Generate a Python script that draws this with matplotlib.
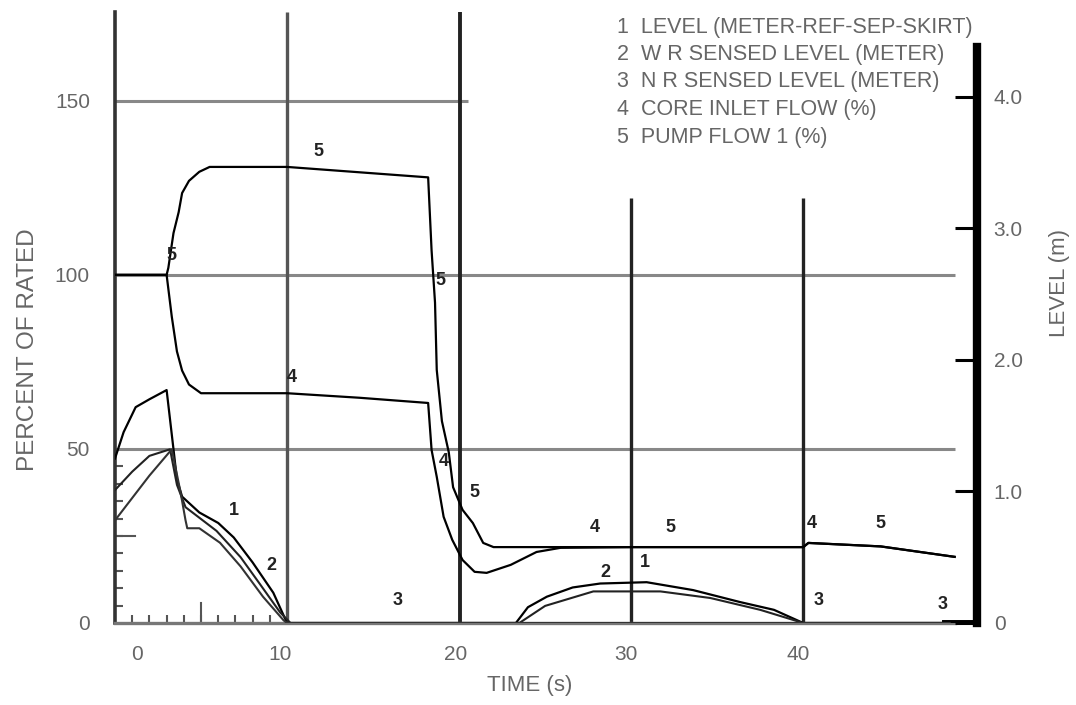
import matplotlib.pyplot as plt

plt.rcParams['font.family'] = ['Liberation Sans Narrow', 'Liberation Sans', 'DejaVu Sans']

# level curves (metres, right axis)
t_lev1 = [0, 0.5, 1.2, 2.0, 3.0, 3.4, 3.6, 3.9, 4.9, 6.0, 6.9, 8.0, 9.2, 10.0, 23.3, 24.0, 25.1, 26.6, 28.2, 30.9, 33.6, 36.3, 38.3, 40.0, 48.5]
lev1 = [1.25, 1.45, 1.64, 1.70, 1.77, 1.32, 1.09, 0.96, 0.84, 0.76, 0.65, 0.46, 0.23, 0.0, 0.0, 0.12, 0.20, 0.27, 0.30, 0.31, 0.25, 0.16, 0.10, 0.0, 0.0]
t_lev2 = [0, 1.0, 2.0, 3.2, 3.6, 4.1, 4.9, 5.9, 7.3, 8.4, 9.6, 10.2, 23.5, 25.0, 27.8, 31.7, 34.6, 37.5, 40.0, 48.5]
lev2 = [1.01, 1.15, 1.27, 1.32, 1.05, 0.88, 0.80, 0.70, 0.50, 0.30, 0.08, 0.0, 0.0, 0.13, 0.24, 0.24, 0.19, 0.10, 0.0, 0.0]
t_lev3 = [0, 1.0, 2.0, 3.3, 3.8, 4.1, 4.2, 4.9, 6.1, 7.3, 8.6, 9.8, 10.0, 48.5]
lev3 = [0.78, 0.95, 1.12, 1.32, 1.0, 0.78, 0.72, 0.72, 0.61, 0.43, 0.20, 0.02, 0.0, 0.0]

# flows (% of rated, left axis)
t_core = [0, 3.0, 3.3, 3.6, 3.9, 4.3, 5.0, 10.0, 14.2, 18.2, 18.4, 18.7, 19.1, 19.6, 20.2, 20.9, 21.6, 23.0, 24.5, 25.9, 30.0, 40.0, 40.3, 44.5, 48.8]
core = [100, 100, 88, 78, 72.5, 68.5, 66, 66, 64.7, 63.2, 49.7, 42, 30.5, 23.9, 18.1, 14.7, 14.4, 16.7, 20.4, 21.6, 21.8, 21.8, 23, 22, 19]
t_pump = [0, 3.0, 3.1, 3.4, 3.7, 3.9, 4.3, 4.9, 5.5, 10.0, 18.2, 18.4, 18.6, 18.7, 19.0, 19.4, 19.65, 20.2, 20.8, 21.4, 22.0, 40.0, 40.3, 44.5, 48.8]
pump = [100, 100, 102, 112, 118, 123.5, 127, 129.6, 131, 131, 128, 107, 92, 72.7, 58, 49, 39, 32.5, 28.7, 23, 21.8, 21.8, 23, 22, 19]

legend_lines = ['1  LEVEL (METER-REF-SEP-SKIRT)',
                '2  W R SENSED LEVEL (METER)',
                '3  N R SENSED LEVEL (METER)',
                '4  CORE INLET FLOW (%)',
                '5  PUMP FLOW 1 (%)']

# curve number tags: (text, time, percent)
tags = [('5', 11.8, 133), ('5', 18.9, 96), ('5', 20.9, 35), ('4', 10.3, 68),
        ('4', 19.1, 44), ('4', 27.9, 25), ('5', 32.3, 25), ('4', 40.5, 26),
        ('5', 44.5, 26), ('1', 6.9, 30), ('2', 9.1, 14), ('3', 16.4, 4),
        ('2', 28.5, 12), ('1', 30.8, 15), ('3', 40.9, 4), ('3', 48.1, 3),
        ('5', 3.3, 103)]

M_TO_PCT = 37.8

fig = plt.figure(figsize=(10.76, 7.05), dpi=100)
fig.set_facecolor('white')
ax = fig.add_axes([115/1076, 82/705, 862/1076, 611/705])
ax.set_xlim(0, 50.1)
ax.set_ylim(0, 175.5)
ax2 = ax.twinx()
ax2.set_ylim(0, 175.5 / M_TO_PCT)

# grid lines of the original drawing
ax.hlines([150], 0, 20.5, color='#888888', lw=2.2, zorder=1)
ax.hlines([100, 50], 0, 48.8, color='#888888', lw=2.2, zorder=1)
ax.vlines(10, 0, 175.5, color='#555555', lw=2.4, zorder=1)
ax.vlines(20.05, 0, 175.5, color='#222222', lw=2.8, zorder=1)
ax.vlines([30, 40], 0, 122, color='#222222', lw=2.4, zorder=1)
ax.axvline(5, 0, 20/611, color='#555555', lw=1.5)
ax.axhline(25, 0, 20/862, color='#555555', lw=1.5)

ax.plot(t_core, core, color='black', lw=1.6, zorder=3)
ax.plot(t_pump, pump, color='black', lw=1.6, zorder=3)
ax2.plot(t_lev1, lev1, color='black', lw=1.6, zorder=3)
ax2.plot(t_lev2, lev2, color='#222222', lw=1.5, zorder=3)
ax2.plot(t_lev3, lev3, color='#333333', lw=1.5, zorder=3)

for txt, tx, ty in tags:
    ax.text(tx, ty, txt, fontsize=13, color='#222222', ha='center', va='bottom',
            fontweight='bold', zorder=4)

# spines
for s in ['top', 'right']:
    ax.spines[s].set_visible(False)
ax.spines['left'].set_color('#333333')
ax.spines['left'].set_linewidth(2.6)
ax.spines['bottom'].set_color('#777777')
ax.spines['bottom'].set_linewidth(2.4)
ax.spines['bottom'].set_bounds(0, 48.8)
for s in ['top', 'left', 'bottom']:
    ax2.spines[s].set_visible(False)
ax2.spines['right'].set_color('black')
ax2.spines['right'].set_linewidth(6)
ax2.spines['right'].set_bounds(0, 4.38)
ax2.axhline(0, 0.963, 1, color='black', lw=5)

# ticks
ax.set_xticks([1.3, 9.6, 19.8, 29.7, 39.7], ['0', '10', '20', '30', '40'])
ax.set_yticks([0, 50, 100, 150])
ax.set_xticks(range(1, 10), minor=True)
ax.set_yticks(range(5, 50, 5), minor=True)
ax.tick_params(which='major', length=0, labelsize=15, labelcolor='#666666')
ax.tick_params(axis='x', which='major', pad=16)
ax.tick_params(axis='y', which='major', pad=18)
ax.tick_params(which='minor', direction='in', length=6, width=1.5, color='#555555')
ax2.set_yticks([0, 1, 2, 3, 4], ['0', '1.0', '2.0', '3.0', '4.0'])
ax2.tick_params(axis='y', direction='in', length=16, width=2.2, color='black',
                labelsize=15, labelcolor='#666666', pad=12)

# axis titles
fig.text(28/1076, 1 - 350/705, 'PERCENT OF RATED', rotation=90, ha='center', va='center',
         fontsize=17.5, color='#666666')
fig.text(530/1076, 1 - 685/705, 'TIME (s)', ha='center', va='center', fontsize=16, color='#666666')
fig.text(1060/1076, 1 - 283/705, 'LEVEL (m)', rotation=90, ha='center', va='center',
         fontsize=16, color='#666666')

for i, line in enumerate(legend_lines):
    fig.text(617/1076, 1 - (27 + 27.5 * i)/705, line, ha='left', va='center',
             fontsize=15.5, color='#666666')

plt.savefig('out.png', dpi=100)
